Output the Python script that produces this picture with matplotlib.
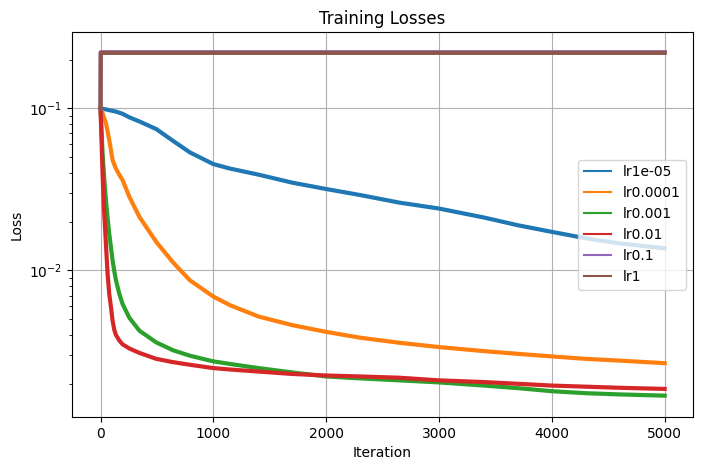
import matplotlib.pyplot as plt
import numpy as np

iters = [0, 18, 33, 48, 63, 77, 93, 107, 122, 137, 166, 196, 256, 345, 494, 643,
         792, 1000, 1149, 1400, 1700, 2000, 2300, 2650, 3000, 3400, 3700, 4000,
         4300, 4600, 4999]
iters_flat = [0, 2, 1000, 2000, 3000, 4000, 4999]

loss_1e5 = [0.100, 0.0995, 0.099, 0.0985, 0.098, 0.0975, 0.097, 0.0965, 0.096, 0.0955,
            0.094, 0.0925, 0.088, 0.083, 0.0745, 0.063, 0.0535, 0.0453, 0.0425, 0.039,
            0.0348, 0.0318, 0.0292, 0.0262, 0.0241, 0.0212, 0.0190, 0.0173, 0.0158,
            0.0147, 0.0137]
loss_1e4 = [0.100, 0.093, 0.087, 0.081, 0.072, 0.064, 0.055, 0.048, 0.045, 0.0425,
            0.039, 0.036, 0.0284, 0.0214, 0.015, 0.0112, 0.0087, 0.0069, 0.0061, 0.0052,
            0.0046, 0.00418, 0.00385, 0.00358, 0.00337, 0.00318, 0.00306, 0.00295,
            0.00285, 0.00278, 0.00268]
loss_1e3 = [0.100, 0.053, 0.037, 0.027, 0.021, 0.0169, 0.0138, 0.0115, 0.0099, 0.0087,
            0.0072, 0.0062, 0.0051, 0.00425, 0.0036, 0.00322, 0.00298, 0.00275, 0.00265,
            0.0025, 0.00235, 0.00222, 0.00216, 0.0021, 0.00204, 0.00195, 0.00188,
            0.00180, 0.00175, 0.00172, 0.00169]
loss_1e2 = [0.100, 0.040, 0.0224, 0.0145, 0.0095, 0.0072, 0.0059, 0.0049, 0.0043, 0.0040,
            0.0037, 0.0035, 0.0033, 0.0031, 0.00285, 0.00272, 0.00262, 0.0025, 0.00245,
            0.00238, 0.0023, 0.00225, 0.00222, 0.00218, 0.0021, 0.00205, 0.0020,
            0.00195, 0.00192, 0.00189, 0.00186]
loss_1e1 = [0.100, 0.222, 0.222, 0.222, 0.222, 0.222, 0.222]
loss_1 = [0.100, 0.220, 0.220, 0.220, 0.220, 0.220, 0.220]

labels = ['lr1e-05', 'lr0.0001', 'lr0.001', 'lr0.01', 'lr0.1', 'lr1']
series = [(iters, loss_1e5), (iters, loss_1e4), (iters, loss_1e3),
          (iters, loss_1e2), (iters_flat, loss_1e1), (iters_flat, loss_1)]

fig = plt.figure(figsize=(7.02, 4.70), dpi=100)
ax = fig.add_subplot(111)
fig.subplots_adjust(left=0.103, right=0.987, top=0.931, bottom=0.113)

for (xs, vals), lab in zip(series, labels):
    ax.plot(xs, vals, label=lab, linewidth=3)

ax.set_yscale('log')
ax.set_ylim(0.00125, 0.294)
ax.set_xlim(-250, 5249)
ax.set_title('Training Losses')
ax.set_xlabel('Iteration')
ax.set_ylabel('Loss')
ax.grid(True)

leg = ax.legend(loc='center right')
for ln in leg.get_lines():
    ln.set_linewidth(1.5)

fig.savefig('out.png', dpi=100)
